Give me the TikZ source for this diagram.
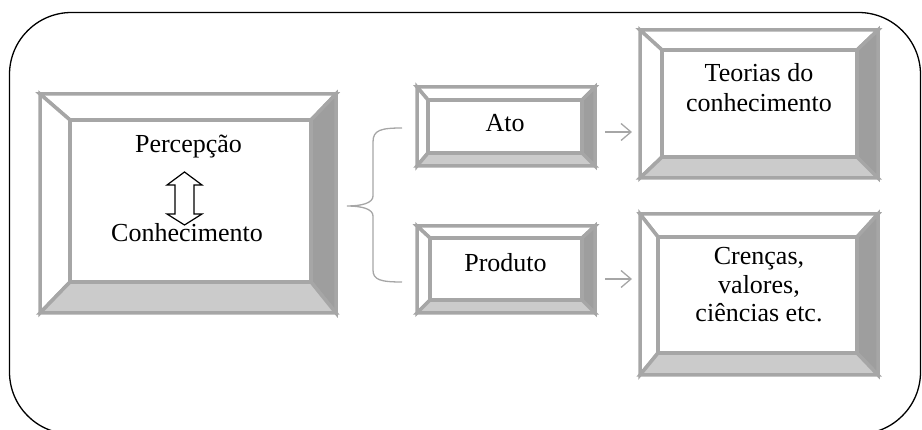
\documentclass[tikz,border=0pt]{standalone}
\usepackage{fontspec}
\setmainfont{Liberation Serif}
\usetikzlibrary{arrows.meta}
\definecolor{bevline}{HTML}{A6A6A6}
\definecolor{bevright}{HTML}{9E9E9E}
\definecolor{bevbottom}{HTML}{CBCBCB}
\definecolor{connline}{HTML}{A6A6A6}
\newcommand\bevelfaces[5]{%
  \path (#1.north west) coordinate (#1-o1) (#1.north east) coordinate (#1-o2)
        (#1.south east) coordinate (#1-o3) (#1.south west) coordinate (#1-o4)
        ([xshift=#2pt,yshift=-#3pt]#1.north west) coordinate (#1-i1)
        ([xshift=-#4pt,yshift=-#3pt]#1.north east) coordinate (#1-i2)
        ([xshift=-#4pt,yshift=#5pt]#1.south east) coordinate (#1-i3)
        ([xshift=#2pt,yshift=#5pt]#1.south west) coordinate (#1-i4);
  \filldraw[bevelline, fill=white] (#1-o1)--(#1-o2)--(#1-i2)--(#1-i1)--cycle;
  \filldraw[bevelline, fill=white] (#1-o1)--(#1-i1)--(#1-i4)--(#1-o4)--cycle;
  \filldraw[bevelline, fill=bevright] (#1-o2)--(#1-o3)--(#1-i3)--(#1-i2)--cycle;
  \filldraw[bevelline, fill=bevbottom] (#1-o4)--(#1-i4)--(#1-i3)--(#1-o3)--cycle;
  \filldraw[bevelline, fill=white] (#1-i1) rectangle (#1-i3);
}
\begin{document}
\begin{tikzpicture}[x=1pt,y=-1pt,
  boxarea/.style={draw=none, inner sep=0pt, outer sep=0pt, rectangle},
  bevelline/.style={draw=bevline, line width=3.5pt, line join=miter},
  label/.style={inner sep=0pt, anchor=base, align=center,
    font=\fontsize{26}{29}\selectfont},
  conn/.style={draw=connline, line width=1.3pt,
    -{Straight Barb[length=10pt,width=17pt]}},
  bracestyle/.style={draw=connline, line width=1.3pt},
  frame/.style={draw=black, line width=1.3pt, rounded corners=62pt}]
\useasboundingbox (0,0) rectangle (922,430);
\draw[frame] (9.5,12.5) rectangle (920.5,434);

% boxes
\node[boxarea, minimum width=296pt, minimum height=219pt] (perc) at (188,203.5) {};
\node[boxarea, minimum width=178pt, minimum height=79pt] (ato) at (506,126.5) {};
\node[boxarea, minimum width=178pt, minimum height=87pt] (prod) at (506,269.5) {};
\node[boxarea, minimum width=238pt, minimum height=148pt] (teo) at (759,104) {};
\node[boxarea, minimum width=238pt, minimum height=161pt] (cren) at (759,294.5) {};
\bevelfaces{perc}{30}{26}{25}{31}
\bevelfaces{ato}{11}{13}{13}{13}
\bevelfaces{prod}{13}{12}{13}{13}
\bevelfaces{teo}{22}{20}{21}{21}
\bevelfaces{cren}{18}{23}{21}{22}

% double arrow
\filldraw[draw=black, fill=white, line width=1.2pt, line join=miter]
  (184.5,172) -- (202,185) -- (194,185) -- (194,214) -- (202,214) -- (184.5,225)
  -- (167,214) -- (175,214) -- (175,185) -- (167,185) -- cycle;

% texts
\node[label] (percT) at (188.5,153) {Percepção};
\node[label] (conT) at (187,242) {Conhecimento};
\node[label] (atoT) at (505,132) {Ato};
\node[label] (prodT) at (505.5,272) {Produto};
\node[label, font=\fontsize{26}{30}\selectfont] (teoT) at (759,112) {Teorias do\\conhecimento};
\node[label, font=\fontsize{26}{28.5}\selectfont] (crenT) at (759,322) {Crenças,\\valores,\\ciências etc.};

% brace
\coordinate (bt) at (402,128);
\coordinate (bm) at (347,206);
\coordinate (bb) at (402,282);
\draw[bracestyle] (bt) .. controls (381,128) and (373,130) .. (373,142)
  -- (373,196) .. controls (373,203) and (362,206) .. (bm)
  .. controls (362,206) and (373,209) .. (373,216)
  -- (373,270) .. controls (373,280) and (381,282) .. (bb);

% arrows
\coordinate (a1s) at (605,132);
\coordinate (a1e) at (632,132);
\coordinate (a2s) at (605,279);
\coordinate (a2e) at (632,279);
\draw[conn] (a1s) -- (a1e);
\draw[conn] (a2s) -- (a2e);
\end{tikzpicture}
\end{document}
